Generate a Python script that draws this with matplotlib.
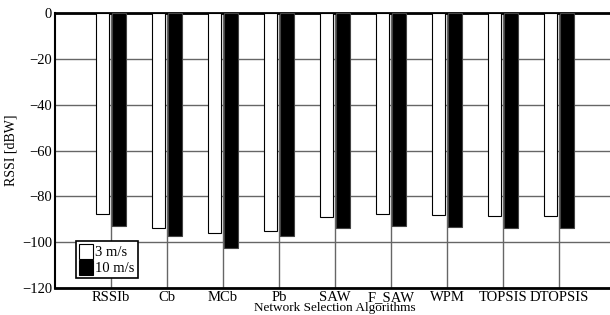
import matplotlib
matplotlib.use("Agg")
import matplotlib.pyplot as plt
import numpy as np

categories = ["RSSIb", "Cb", "MCb", "Pb", "SAW", "F_SAW", "WPM", "TOPSIS", "DTOPSIS"]
rssi_3ms = [-87.5, -94.0, -96.2, -95.3, -89.2, -87.5, -88.2, -88.5, -88.5]
rssi_10ms = [-92.9, -97.4, -102.5, -97.4, -93.9, -92.9, -93.4, -93.9, -93.9]
yticks = [0, -20, -40, -60, -80, -100, -120]

plt.rcParams['font.family'] = ['Liberation Serif', 'DejaVu Serif']
plt.rcParams['axes.unicode_minus'] = True

fig = plt.figure(figsize=(6.1, 3.15), dpi=100)
ax = fig.add_axes([55/610, 1-288/315, 560/610, 275/315])

x = np.arange(1, len(categories) + 1)
ax.bar(x - 0.145, rssi_3ms, width=0.23, color='white', edgecolor='black', linewidth=0.8, zorder=3, label='3 m/s')
ax.bar(x + 0.14, rssi_10ms, width=0.26, color='black', edgecolor='#444444', linewidth=0.8, zorder=3, label='10 m/s')

ax.set_xlim(0, 10)
ax.set_ylim(-120, 0)
ax.set_xticks(x)
ax.set_xticklabels(categories, fontsize=10.5)
ax.set_yticks(yticks)
ax.set_yticklabels([("\u2212%d" % -v) if v < 0 else "0" for v in yticks], fontsize=10.5)
ax.tick_params(length=0, pad=2)
ax.grid(True, color='#666666', linewidth=1, zorder=0)
ax.set_axisbelow(True)

for s in ['top', 'bottom']:
    ax.spines[s].set_linewidth(2)
ax.spines['left'].set_linewidth(1.5)
ax.spines['right'].set_visible(False)

ax.set_xlabel("Network Selection Algorithms", fontsize=9.5, labelpad=-1)
ax.set_ylabel("RSSI [dBW]", fontsize=10, labelpad=3)

leg = ax.legend(loc='lower left', bbox_to_anchor=(0.037, 0.035), fontsize=10.5, frameon=True,
                fancybox=False, edgecolor='black', framealpha=1, handlelength=1.0, handleheight=1.2,
                handletextpad=0.15, borderpad=0.2, labelspacing=0.05, borderaxespad=0)
leg.get_frame().set_linewidth(1.2)
for h in leg.legend_handles:
    h.set_edgecolor('black')

fig.savefig("out.png", dpi=100)
